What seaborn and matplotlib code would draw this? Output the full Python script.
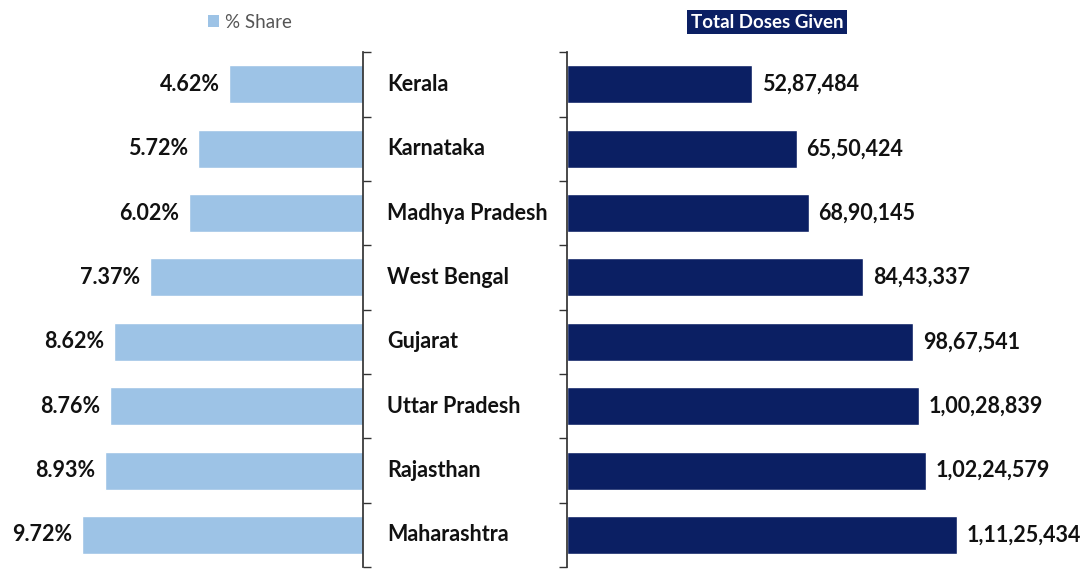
import matplotlib
matplotlib.use("Agg")
import matplotlib.pyplot as plt
import matplotlib.transforms as mtransforms
from matplotlib.patches import Patch
import seaborn as sns
import pandas as pd
import numpy as np

# state-wise vaccination data
STATES = ['Kerala', 'Karnataka', 'Madhya Pradesh', 'West Bengal',
          'Gujarat', 'Uttar Pradesh', 'Rajasthan', 'Maharashtra']
SHARE = [4.62, 5.72, 6.02, 7.37, 8.62, 8.76, 8.93, 9.72]
DOSES = [5287484, 6550424, 6890145, 8443337, 9867541, 10028839, 10224579, 11125434]
DOSE_LABELS = ['52,87,484', '65,50,424', '68,90,145', '84,43,337',
               '98,67,541', '1,00,28,839', '1,02,24,579', '1,11,25,434']

LIGHT = '#9DC3E6'
NAVY = '#0B1F63'

sns.set_theme(style="white")
plt.rcParams['font.family'] = ['Lato', 'DejaVu Sans']

df = pd.DataFrame({'state': STATES, 'share': SHARE, 'doses': DOSES})

fig = plt.figure(figsize=(10.86, 5.70), dpi=100)
ax_l = fig.add_axes([0.0, 0.005, 363 / 1086, 0.9035])
ax_r = fig.add_axes([567 / 1086, 0.005, 519 / 1086, 0.9035])

sns.barplot(data=df, x='share', y='state', order=STATES, color=LIGHT,
            width=0.59, saturation=1, ax=ax_l)
sns.barplot(data=df, x='doses', y='state', order=STATES, color=NAVY,
            width=0.59, saturation=1, ax=ax_r)

ax_l.set_xlim(12.56, 0)
ax_r.set_xlim(0, 14.8e6)
boundaries = np.arange(-0.5, len(STATES), 1.0)
for ax in (ax_l, ax_r):
    ax.set_ylim(len(STATES) - 0.5, -0.5)
    ax.set_xlabel('')
    ax.set_ylabel('')
    ax.set_xticks([])
    ax.set_yticks(boundaries)
    ax.set_yticklabels([])
    for s in ax.spines.values():
        s.set_visible(False)

ax_l.spines['right'].set_visible(True)
ax_l.spines['right'].set_color('#333333')
ax_l.yaxis.tick_right()
ax_l.tick_params(axis='y', right=True, left=False, direction='out',
                 length=6, color='#333333', width=1)
ax_r.spines['left'].set_visible(True)
ax_r.spines['left'].set_color('#333333')
ax_r.tick_params(axis='y', left=True, direction='out', length=6,
                 color='#333333', width=1)

ax_l.bar_label(ax_l.containers[0], labels=[f'{v:.2f}%' for v in SHARE],
               padding=7, fontsize=15.5, fontweight='bold', color='#111111')
ax_r.bar_label(ax_r.containers[0], labels=DOSE_LABELS,
               padding=7, fontsize=15.5, fontweight='bold', color='#111111')

# state names between the two panels
trans = mtransforms.blended_transform_factory(ax_l.transAxes, ax_l.transData)
for i, name in enumerate(STATES):
    ax_l.text(387 / 363, i, name, transform=trans, ha='left', va='center',
              fontsize=15.5, fontweight='bold', color='#111111', clip_on=False)

# legends
fig.legend(handles=[Patch(facecolor=LIGHT, edgecolor='none', label='% Share')],
           loc='center', bbox_to_anchor=(250 / 1086, 1 - 22 / 570),
           frameon=False, fontsize=13.5, handlelength=0.6, handleheight=0.6,
           handletextpad=0.35, labelcolor='#555555',
           borderaxespad=0, borderpad=0)
fig.text(767 / 1086, 1 - 22 / 570, 'Total Doses Given', ha='center', va='center',
         fontsize=13.5, fontweight='bold', color='white',
         bbox=dict(boxstyle='square,pad=0.2', facecolor=NAVY, edgecolor='none'))

fig.savefig('out.png', dpi=100)
